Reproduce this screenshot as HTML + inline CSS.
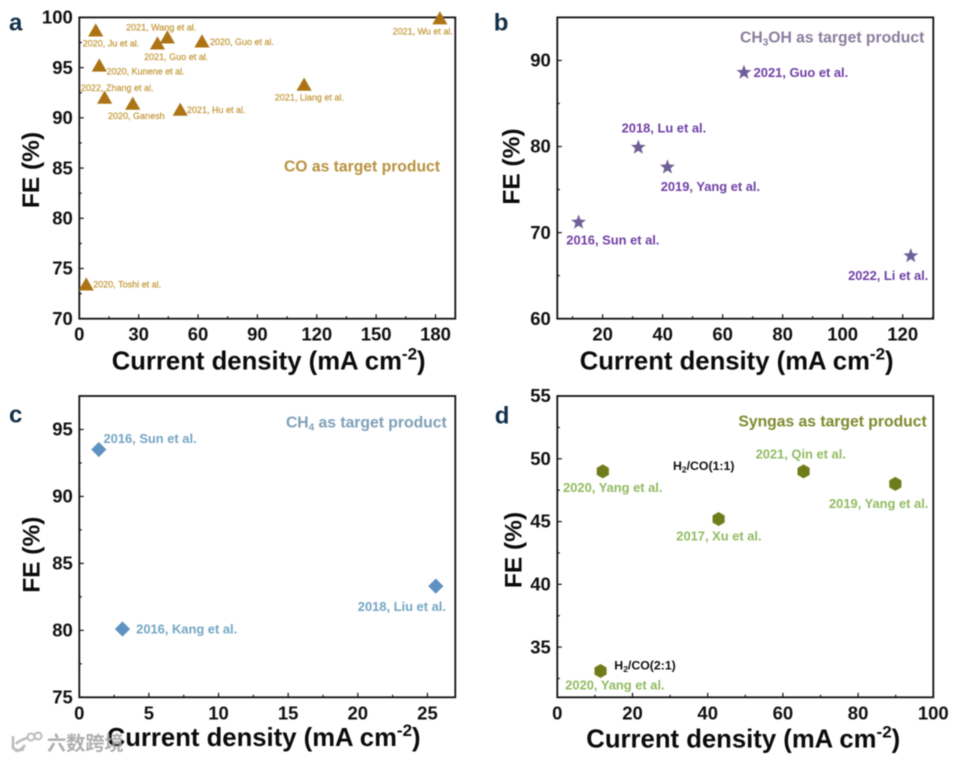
<!DOCTYPE html>
<html lang="en">
<head>
<meta charset="utf-8">
<title>Faradaic efficiency versus current density</title>
<style>
html,body{margin:0;padding:0;background:#fff;width:956px;height:761px;overflow:hidden}
svg{display:block;filter:blur(.45px);font-family:"Liberation Sans","Noto Sans CJK SC",sans-serif}
.axis-title{font-weight:bold;font-size:25.7px;fill:#0b0b0b}
.y-title{font-weight:bold;font-size:24.5px;fill:#0b0b0b}
.tick{font-weight:bold;font-size:18.5px;fill:#111}
.letter{font-weight:bold;font-size:24px;fill:#12304a}
.note{font-weight:bold;font-size:15.7px}
.ratio{font-weight:bold;font-size:12.3px;fill:#111}
</style>
</head>
<body>
<svg id="chart" xmlns="http://www.w3.org/2000/svg" width="956" height="761" viewBox="0 0 956 761">
  <rect x="0" y="0" width="956" height="761" fill="#fff"/>

  <text class="letter" x="9" y="30.7">a</text>
  <text class="letter" x="493.7" y="30.7">b</text>
  <text class="letter" x="9" y="422.7">c</text>
  <text class="letter" x="494.7" y="423.3">d</text>

  <text class="note" x="440" y="171.3" text-anchor="end" fill="#b8923f">CO as target product</text>
  <text class="note" x="924.3" y="42.3" text-anchor="end" fill="#8a7d9e">CH<tspan font-size="10" dy="3">3</tspan><tspan dy="-3">OH as target product</tspan></text>
  <text class="note" x="446.7" y="427.7" text-anchor="end" fill="#7fa0b8">CH<tspan font-size="10" dy="3">4</tspan><tspan dy="-3"> as target product</tspan></text>
  <text class="note" x="926.7" y="426.7" text-anchor="end" fill="#7f8a2e">Syngas as target product</text>

  <text class="ratio" x="673" y="470">H<tspan font-size="8.5" dy="2.5">2</tspan><tspan dy="-2.5">/CO(1:1)</tspan></text>
  <text class="ratio" x="614.3" y="669.3">H<tspan font-size="8.5" dy="2.5">2</tspan><tspan dy="-2.5">/CO(2:1)</tspan></text>

  <text class="axis-title" x="111.7" y="369.3">Current density (mA cm<tspan font-size="17" dy="-10">-2</tspan><tspan dy="10">)</tspan></text>
  <text class="axis-title" x="579.7" y="369.3">Current density (mA cm<tspan font-size="17" dy="-10">-2</tspan><tspan dy="10">)</tspan></text>
  <text class="axis-title" x="106.7" y="746">Current density (mA cm<tspan font-size="17" dy="-10">-2</tspan><tspan dy="10">)</tspan></text>
  <text class="axis-title" x="586.3" y="747.7">Current density (mA cm<tspan font-size="17" dy="-10">-2</tspan><tspan dy="10">)</tspan></text>

  <text class="y-title" transform="translate(39,170) rotate(-90)" text-anchor="middle">FE (%)</text>
  <text class="y-title" transform="translate(519.7,166.5) rotate(-90)" text-anchor="middle">FE (%)</text>
  <text class="y-title" transform="translate(39.3,554.7) rotate(-90)" text-anchor="middle">FE (%)</text>
  <text class="y-title" transform="translate(521.3,550) rotate(-90)" text-anchor="middle">FE (%)</text>

  <g id="panels"></g>

  <g opacity=".9">
    <path d="M13 736 L13 748 Q18 752 24 749 M27 738 Q18 741 16 744 M25 745 Q21 751 15 751" fill="none" stroke="#b5b5b5" stroke-width="2.6"/>
    <circle cx="31" cy="737" r="3.5" fill="none" stroke="#b5b5b5" stroke-width="2"/>
    <circle cx="38" cy="736" r="3.5" fill="none" stroke="#b5b5b5" stroke-width="2"/>
    <text x="47" y="750" font-size="19.2" font-weight="bold" fill="#a6a6a6">六数跨境</text>
  </g>
</svg>

<script>
/* Panel a: CO */
const coLabels = ["2020, Ju et al.", "2021, Wang et al.", "2021, Guo et al.", "2020, Guo et al.", "2020, Kunene et al.", "2022, Zhang et al.", "2020, Ganesh", "2021, Hu et al.", "2021, Liang et al.", "2021, Wu et al.", "2020, Toshi et al."];
const coCurrent = [8.3, 44.5, 39.5, 62, 10.1, 12.8, 27, 51, 113.6, 182.2, 3.5];
const coFE = [98.6, 97.9, 97.3, 97.5, 95.1, 91.9, 91.3, 90.7, 93.2, 99.8, 73.3];
const coXTicks = [0, 30, 60, 90, 120, 150, 180];
const coXMinor = [15, 45, 75, 105, 135, 165];
const coYTicks = [70, 75, 80, 85, 90, 95, 100];
const coYMinor = [72.5, 77.5, 82.5, 87.5, 92.5, 97.5];
const coXDomain = [0, 190];
const coYDomain = [70, 100];

/* Panel b: CH3OH */
const methanolLabels = ["2021, Guo et al.", "2018, Lu et al.", "2019, Yang et al.", "2016, Sun et al.", "2022, Li et al."];
const methanolCurrent = [67.1, 31.9, 41.6, 12, 122.7];
const methanolFE = [88.6, 79.9, 77.6, 71.2, 67.3];
const methanolXTicks = [20, 40, 60, 80, 100, 120];
const methanolXMinor = [10, 30, 50, 70, 90, 110, 130];
const methanolYTicks = [60, 70, 80, 90];
const methanolYMinor = [65, 75, 85];
const methanolXDomain = [4.9, 130.2];
const methanolYDomain = [60, 95];

/* Panel c: CH4 */
const methaneLabels = ["2016, Sun et al.", "2016, Kang et al.", "2018, Liu et al."];
const methaneCurrent = [1.4, 3.1, 25.6];
const methaneFE = [93.5, 80.1, 83.3];
const methaneXTicks = [0, 5, 10, 15, 20, 25];
const methaneXMinor = [2.5, 7.5, 12.5, 17.5, 22.5];
const methaneYTicks = [75, 80, 85, 90, 95];
const methaneYMinor = [77.5, 82.5, 87.5, 92.5];
const methaneXDomain = [0, 27];
const methaneYDomain = [75, 97.5];

/* Panel d: Syngas */
const syngasLabels = ["2020, Yang et al.", "2021, Qin et al.", "2019, Yang et al.", "2017, Xu et al.", "2020, Yang et al."];
const syngasCurrent = [12.1, 65.5, 89.9, 42.9, 11.5];
const syngasFE = [49, 49, 48, 45.2, 33.1];
const syngasXTicks = [0, 20, 40, 60, 80, 100];
const syngasXMinor = [10, 30, 50, 70, 90];
const syngasYTicks = [35, 40, 45, 50, 55];
const syngasYMinor = [32.5, 37.5, 42.5, 47.5, 52.5];
const syngasXDomain = [0, 100];
const syngasYDomain = [31, 55];

const NS = 'http://www.w3.org/2000/svg';
const root = document.getElementById('panels');

function make(parent, tag, attrs) {
  const el = document.createElementNS(NS, tag);
  for (const k in attrs) el.setAttribute(k, attrs[k]);
  parent.appendChild(el);
  return el;
}

function markerPoints(kind, cx, cy) {
  const pts = [];
  if (kind === 'triangle') {
    pts.push([cx, cy - 8.2], [cx + 7.6, cy + 5], [cx - 7.6, cy + 5]);
  } else if (kind === 'diamond') {
    pts.push([cx, cy - 7.6], [cx + 7.6, cy], [cx, cy + 7.6], [cx - 7.6, cy]);
  } else if (kind === 'hexagon') {
    for (let k = 0; k < 6; k++) {
      const a = Math.PI / 3 * k + Math.PI / 6;
      pts.push([cx + 7 * Math.cos(a), cy + 7 * Math.sin(a)]);
    }
  } else {
    for (let k = 0; k < 10; k++) {
      const r = k % 2 ? 3.3 : 7.8;
      const a = -Math.PI / 2 + Math.PI / 5 * k;
      pts.push([cx + r * Math.cos(a), cy + r * Math.sin(a)]);
    }
  }
  return pts.map(p => p[0].toFixed(2) + ',' + p[1].toFixed(2)).join(' ');
}

function drawPanel(p) {
  const g = make(root, 'g', {});
  
  

  const xScale = v => p.left + (v - p.xDomain[0]) / (p.xDomain[1] - p.xDomain[0]) * (p.right - p.left);
  const yScale = v => p.bottom - (v - p.yDomain[0]) / (p.yDomain[1] - p.yDomain[0]) * (p.bottom - p.top);

  const frame = make(g, 'rect', {x: p.left, y: p.top, width: p.right - p.left, height: p.bottom - p.top, fill: 'none', stroke: '#111', 'stroke-width': 1.8});
  
  

  p.xTicks.forEach(v => {
    const tick = make(g, 'line', {x1: xScale(v), x2: xScale(v), y1: p.bottom, y2: p.bottom - 4.5, stroke: '#111', 'stroke-width': 1.2});
    
    
    const label = make(g, 'text', {x: xScale(v), y: p.bottom + 22, 'text-anchor': 'middle', class: 'tick'});
    
    
    label.textContent = v;
  });
  p.xMinor.forEach(v => {
    const tick = make(g, 'line', {x1: xScale(v), x2: xScale(v), y1: p.bottom, y2: p.bottom - 2.5, stroke: '#111', 'stroke-width': 1.2});
    
    
  });
  p.yTicks.forEach(v => {
    const tick = make(g, 'line', {x1: p.left, x2: p.left + 4.5, y1: yScale(v), y2: yScale(v), stroke: '#111', 'stroke-width': 1.2});
    
    
    const label = make(g, 'text', {x: p.left - 6.5, y: yScale(v) + 6.2, 'text-anchor': 'end', class: 'tick'});
    
    
    label.textContent = v;
  });
  p.yMinor.forEach(v => {
    const tick = make(g, 'line', {x1: p.left, x2: p.left + 2.5, y1: yScale(v), y2: yScale(v), stroke: '#111', 'stroke-width': 1.2});
    
    
  });

  p.xValues.forEach((v, i) => {
    const cx = xScale(v);
    const cy = yScale(p.yValues[i]);
    const mark = make(g, 'polygon', {points: markerPoints(p.marker, cx, cy), fill: p.markerColor});
    
    
    const off = p.labelOffsets[i];
    const label = make(g, 'text', {x: cx + off[0], y: cy + off[1], fill: p.labelColor, stroke: p.labelColor, 'stroke-width': p.labelStroke, 'font-size': p.labelSize, 'font-weight': p.labelWeight});
    
    
    label.textContent = p.labels[i];
  });
}

drawPanel({
  name: 'co-panel', left: 79.3, right: 455.3, top: 17.4, bottom: 318.7,
  xDomain: coXDomain, yDomain: coYDomain,
  xTicks: coXTicks, xMinor: coXMinor, yTicks: coYTicks, yMinor: coYMinor,
  xValues: coCurrent, yValues: coFE, labels: coLabels,
  marker: 'triangle', markerColor: '#ad7416', labelColor: '#c4983a', labelSize: 9, labelWeight: 'normal', labelStroke: 0.2,
  labelOffsets: [[-13, 15], [-41.3, -8], [-13.3, 15.7], [8, 2.7], [7.3, 8], [-23.7, -8], [-24.7, 14], [6.7, 2.3], [-29.3, 15], [-47.3, 15.3], [7, 1.7]]
});
drawPanel({
  name: 'ch3oh-panel', left: 557.3, right: 933.3, top: 17.4, bottom: 318.7,
  xDomain: methanolXDomain, yDomain: methanolYDomain,
  xTicks: methanolXTicks, xMinor: methanolXMinor, yTicks: methanolYTicks, yMinor: methanolYMinor,
  xValues: methanolCurrent, yValues: methanolFE, labels: methanolLabels,
  marker: 'star', markerColor: '#6f5f97', labelColor: '#7040a6', labelSize: 12.9, labelWeight: 'bold', labelStroke: 0,
  labelOffsets: [[9.7, 4.7], [-16.7, -14.7], [-6.7, 24], [-12.3, 22], [-62.7, 24]]
});
drawPanel({
  name: 'ch4-panel', left: 79.3, right: 455.3, top: 396, bottom: 697.3,
  xDomain: methaneXDomain, yDomain: methaneYDomain,
  xTicks: methaneXTicks, xMinor: methaneXMinor, yTicks: methaneYTicks, yMinor: methaneYMinor,
  xValues: methaneCurrent, yValues: methaneFE, labels: methaneLabels,
  marker: 'diamond', markerColor: '#5f92c2', labelColor: '#74a6c4', labelSize: 12.9, labelWeight: 'bold', labelStroke: 0,
  labelOffsets: [[4.7, -6.7], [13.7, 4.7], [-78, 24.7]]
});
drawPanel({
  name: 'syngas-panel', left: 557.3, right: 933.3, top: 396, bottom: 697.3,
  xDomain: syngasXDomain, yDomain: syngasYDomain,
  xTicks: syngasXTicks, xMinor: syngasXMinor, yTicks: syngasYTicks, yMinor: syngasYMinor,
  xValues: syngasCurrent, yValues: syngasFE, labels: syngasLabels,
  marker: 'hexagon', markerColor: '#707c1a', labelColor: '#91bb62', labelSize: 12.9, labelWeight: 'bold', labelStroke: 0,
  labelOffsets: [[-39.7, 20.7], [-48, -12.7], [-66.3, 24.3], [-42.3, 21.7], [-35.3, 18.7]]
});
</script>
</body>
</html>
